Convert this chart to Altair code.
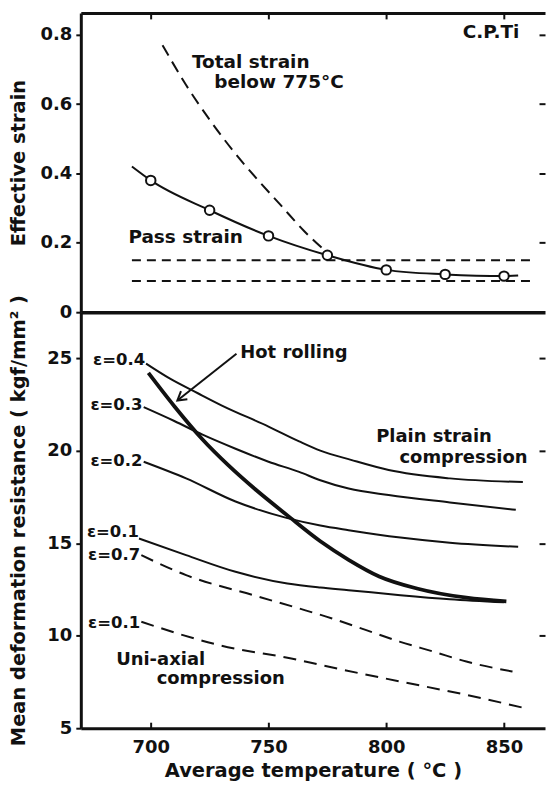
import altair as alt
import pandas as pd

FONT = "DejaVu Sans"
INK = "#111111"
WEIGHT = "bold"

# ---------------- shared temperature axis ----------------
T_MIN, T_MAX = 670.3, 867.4
x_ticks = [700, 750, 800, 850]

# ---------------- upper panel: effective strain ----------------
pass_temp = [700, 725, 750, 775, 800, 825, 850]
pass_strain = [0.38, 0.294, 0.22, 0.164, 0.122, 0.109, 0.104]
pass_line_temp = [692, 700, 725, 750, 775, 800, 825, 850, 856]
pass_line_strain = [0.42, 0.38, 0.294, 0.22, 0.164, 0.122, 0.109, 0.104, 0.106]

total_temp = [705, 715, 725, 735, 745, 755, 765, 776]
total_strain = [0.77, 0.655, 0.555, 0.465, 0.385, 0.31, 0.235, 0.165]

limit_temp = [692, 863]
limit_upper = [0.15, 0.15]
limit_lower = [0.09, 0.09]

top_text = ["Total strain", "below 775°C", "C.P.Ti", "Pass strain"]
top_text_t = [717.5, 727, 832.5, 690.5]
top_text_v = [0.722, 0.665, 0.807, 0.217]

# ---------------- lower panel: mean deformation resistance ----------------
ps04_t = [698, 708, 720, 730, 750, 763, 772, 785, 801, 827, 858]
ps04_v = [24.7, 23.9, 23.1, 22.45, 21.3, 20.5, 20.0, 19.5, 18.95, 18.5, 18.3]
ps03_t = [697, 710, 722, 736, 750, 763, 772, 784, 801, 827, 855]
ps03_v = [22.35, 21.6, 20.86, 20.1, 19.4, 18.85, 18.4, 17.95, 17.6, 17.2, 16.8]
ps02_t = [697, 715, 736, 758, 772, 784, 806, 827, 856]
ps02_v = [19.4, 18.5, 17.25, 16.35, 15.95, 15.7, 15.3, 15.02, 14.8]
ps01_t = [695, 715, 736, 758, 772, 784, 806, 827, 850]
ps01_v = [15.25, 14.35, 13.45, 12.82, 12.6, 12.46, 12.19, 11.97, 11.8]

hot_t = [699, 710, 722, 733, 744, 758, 772, 784, 797, 813, 834, 851]
hot_v = [24.2, 22.4, 20.6, 19.2, 17.95, 16.5, 15.1, 14.1, 13.2, 12.55, 12.05, 11.85]

ua07_t = [696, 715, 743.5, 763, 777, 791.5, 805.6, 820, 834, 853.6]
ua07_v = [14.35, 13.27, 12.19, 11.47, 10.93, 10.3, 9.68, 9.14, 8.6, 8.06]
ua01_t = [696, 729, 763, 772, 806, 834, 859]
ua01_v = [10.75, 9.49, 8.68, 8.42, 7.52, 6.8, 6.08]

eps_text = ["ε=0.4", "ε=0.3", "ε=0.2", "ε=0.1", "ε=0.7", "ε=0.1"]
eps_t = [697.6, 696.5, 696.5, 695, 695.5, 695.5]
eps_v = [24.9, 22.45, 19.45, 15.6, 14.35, 10.7]

bot_text = ["Hot rolling", "Plain strain", "compression", "Uni-axial", "compression"]
bot_text_t = [738, 795.7, 805.6, 685.3, 702.5]
bot_text_v = [25.3, 20.73, 19.6, 8.7, 7.65]

arrow_t = [736.4, 711.3]
arrow_v = [25.23, 22.71]


def frame(pairs):
    rows = []
    for name, ts, vs in pairs:
        for t, v in zip(ts, vs):
            rows.append({"T": t, "V": v, "s": name})
    return pd.DataFrame(rows)


x_scale = alt.Scale(domain=[T_MIN, T_MAX], nice=False, zero=False)
top_scale = alt.Scale(domain=[0, 0.863], nice=False, zero=False)
bot_scale = alt.Scale(domain=[5, 27.48], nice=False, zero=False)


# axis pieces (the frame is built from axis domains, ticks point inward)
def frame_axis(orient, width=3):
    return alt.Axis(orient=orient, domain=True, domainWidth=width, domainColor=INK,
                    ticks=False, labels=False, title=None, grid=False)


def inner_ticks(orient, values):
    return alt.Axis(orient=orient, offset=-6, domain=False, ticks=True, tickSize=6,
                    tickWidth=2, tickColor=INK, labels=False, title=None, grid=False,
                    values=values)


def main_y(values, title, expr=None):
    kw = dict(orient="left", values=values, domain=True, domainWidth=3, domainColor=INK,
              ticks=True, tickSize=5, tickWidth=2, tickColor=INK, labelPadding=4,
              labelFontSize=18, labelColor=INK, labelFont=FONT, labelFontWeight=WEIGHT,
              labelFlush=False, labelOverlap=False, title=title, titleFontSize=19.5,
              titleFont=FONT, titleColor=INK, titleFontWeight=WEIGHT, titleX=-62,
              titleBaseline="middle", grid=False)
    if expr:
        kw["labelExpr"] = expr
    return alt.Axis(**kw)


W = 465.3
H_TOP = 300
H_BOT = 417

# ---------------- upper panel ----------------
circ_line = alt.Chart(frame([("pass", pass_line_temp, pass_line_strain)])).mark_line(
    color=INK, strokeWidth=2, interpolate="monotone").encode(
    x=alt.X("T:Q", scale=x_scale, axis=frame_axis("top")),
    y=alt.Y("V:Q", scale=top_scale,
            axis=main_y([0, 0.2, 0.4, 0.6, 0.8], "Effective strain",
                        "datum.value == 0 ? '0' : format(datum.value, '.1f')")),
)

limits = alt.Chart(frame([("upper", limit_temp, limit_upper),
                          ("lower", limit_temp, limit_lower)])).mark_line(
    color=INK, strokeWidth=2, strokeDash=[9, 6]).encode(
    x=alt.X("T:Q", scale=x_scale, axis=frame_axis("bottom", 3.5)),
    y=alt.Y("V:Q", scale=top_scale, axis=inner_ticks("right", [0.2, 0.4, 0.6, 0.8])),
    detail="s:N",
)

total = alt.Chart(frame([("total", total_temp, total_strain)])).mark_line(
    color=INK, strokeWidth=2, strokeDash=[12, 7], interpolate="monotone").encode(
    x=alt.X("T:Q", scale=x_scale, axis=inner_ticks("top", x_ticks)),
    y=alt.Y("V:Q", scale=top_scale, axis=None),
)

circles = alt.Chart(pd.DataFrame({"T": pass_temp, "V": pass_strain})).mark_point(
    shape="circle", size=90, fill="white", fillOpacity=1, opacity=1,
    stroke=INK, strokeWidth=2).encode(
    x=alt.X("T:Q", scale=x_scale, axis=None),
    y=alt.Y("V:Q", scale=top_scale, axis=None),
)

top_labels = alt.Chart(pd.DataFrame({"T": top_text_t, "V": top_text_v, "t": top_text})).mark_text(
    align="left", baseline="middle", font=FONT, fontSize=18.5, fontWeight=WEIGHT,
    color=INK).encode(
    x=alt.X("T:Q", scale=x_scale, axis=None),
    y=alt.Y("V:Q", scale=top_scale, axis=None),
    text="t:N",
)

top = alt.layer(circ_line, limits, total, circles, top_labels).resolve_axis(
    x="independent", y="independent").properties(width=W, height=H_TOP)

# ---------------- lower panel ----------------
plain = alt.Chart(frame([("0.4", ps04_t, ps04_v), ("0.3", ps03_t, ps03_v),
                         ("0.2", ps02_t, ps02_v), ("0.1", ps01_t, ps01_v)])).mark_line(
    color=INK, strokeWidth=2, interpolate="monotone").encode(
    x=alt.X("T:Q", scale=x_scale,
            axis=alt.Axis(orient="bottom", values=x_ticks, domain=True, domainWidth=3,
                          domainColor=INK, ticks=False, labelPadding=10, labelFontSize=18,
                          labelFont=FONT, labelFontWeight=WEIGHT, labelColor=INK,
                          labelFlush=False, labelOverlap=False,
                          title="Average temperature ( °C )", titleFontSize=19.5,
                          titleFont=FONT, titleColor=INK, titleFontWeight=WEIGHT,
                          titlePadding=5, grid=False)),
    y=alt.Y("V:Q", scale=bot_scale,
            axis=main_y([5, 10, 15, 20, 25], "Mean deformation resistance ( kgf/mm² )")),
    detail="s:N",
)

hot = alt.Chart(frame([("hot", hot_t, hot_v)])).mark_line(
    color=INK, strokeWidth=3.8, interpolate="monotone").encode(
    x=alt.X("T:Q", scale=x_scale, axis=inner_ticks("bottom", x_ticks)),
    y=alt.Y("V:Q", scale=bot_scale, axis=inner_ticks("right", [10, 15, 20, 25])),
)

uniaxial = alt.Chart(frame([("0.7", ua07_t, ua07_v), ("0.1", ua01_t, ua01_v)])).mark_line(
    color=INK, strokeWidth=2, strokeDash=[13, 8], interpolate="monotone").encode(
    x=alt.X("T:Q", scale=x_scale, axis=None),
    y=alt.Y("V:Q", scale=bot_scale, axis=None),
    detail="s:N",
)

arrow_df = pd.DataFrame({"T": arrow_t, "V": arrow_v})
arrow_shaft = alt.Chart(arrow_df).mark_line(color=INK, strokeWidth=2).encode(
    x=alt.X("T:Q", scale=x_scale, axis=None),
    y=alt.Y("V:Q", scale=bot_scale, axis=None),
)
arrow_head = alt.Chart(arrow_df.iloc[[1]]).mark_point(
    shape="M -1 -0.6 L 0 0 L -1 0.6", size=300, angle=142, filled=False,
    stroke=INK, strokeWidth=2, opacity=1).encode(
    x=alt.X("T:Q", scale=x_scale, axis=None),
    y=alt.Y("V:Q", scale=bot_scale, axis=None),
)

eps_labels = alt.Chart(pd.DataFrame({"T": eps_t, "V": eps_v, "t": eps_text})).mark_text(
    align="right", baseline="middle", font=FONT, fontSize=16.5, fontWeight=WEIGHT,
    color=INK).encode(
    x=alt.X("T:Q", scale=x_scale, axis=None),
    y=alt.Y("V:Q", scale=bot_scale, axis=None),
    text="t:N",
)

bot_labels = alt.Chart(pd.DataFrame({"T": bot_text_t, "V": bot_text_v, "t": bot_text})).mark_text(
    align="left", baseline="middle", font=FONT, fontSize=18, fontWeight=WEIGHT,
    color=INK).encode(
    x=alt.X("T:Q", scale=x_scale, axis=None),
    y=alt.Y("V:Q", scale=bot_scale, axis=None),
    text="t:N",
)

bottom = alt.layer(plain, hot, uniaxial, arrow_shaft, arrow_head, eps_labels,
                   bot_labels).resolve_axis(x="independent", y="independent").properties(
    width=W, height=H_BOT)

chart = alt.vconcat(top, bottom, spacing=0, bounds="flush").properties(
    padding={"left": 8, "top": 11, "right": 1, "bottom": 2},
    background="white",
).configure_view(stroke=None)

chart.save("out.html", embed_options={"renderer": "svg", "actions": False})
